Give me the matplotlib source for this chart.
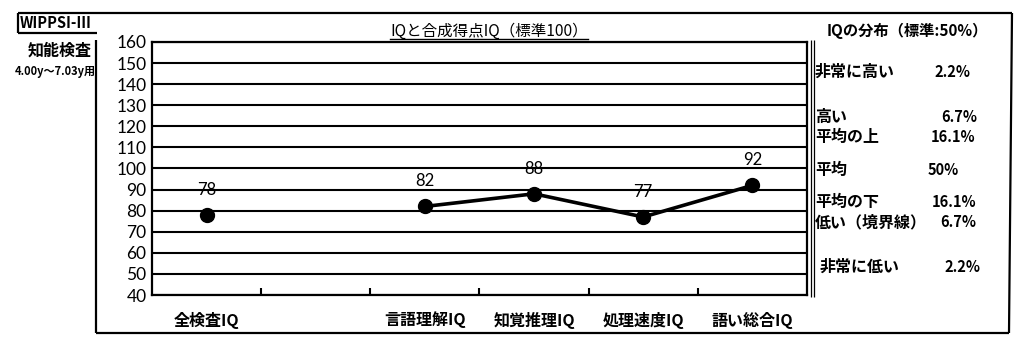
import matplotlib
matplotlib.use('Agg')
import numpy as np
import matplotlib.pyplot as plt
from matplotlib.lines import Line2D

plt.rcParams['font.family'] = ['Noto Sans CJK JP', 'DejaVu Sans']

# scores per index (second slot is left empty on the sheet)
categories = ['全検査IQ', '', '言語理解IQ', '知覚推理IQ', '処理速度IQ', '語い総合IQ']
scores = [78, np.nan, 82, 88, 77, 92]
y_ticks = list(range(40, 161, 10))

# distribution panel text
dist_labels = ['非常に高い', '高い', '平均の上', '平均', '平均の下', '低い（境界線）', '非常に低い']
dist_pcts = ['2.2%', '6.7%', '16.1%', '50%', '16.1%', '6.7%', '2.2%']

W, H = 1024, 341


def px(x, y):
    """pixel position -> figure fraction"""
    return x / W, 1 - y / H


def frame_line(fig, x0, y0, x1, y1, lw=1.6):
    a, b = px(x0, y0)
    c, d = px(x1, y1)
    fig.add_artist(Line2D([a, c], [b, d], color='black', lw=lw,
                          transform=fig.transFigure, solid_capstyle='butt'))


fig = plt.figure(figsize=(W / 100, H / 100), dpi=100)

# main chart
l, t = px(152, 42)
r, b = px(807, 295)
ax = fig.add_axes([l, b, r - l, t - b])

x = np.arange(len(categories))
ax.plot(x, scores, color='black', lw=2.6, marker='o', markersize=10, zorder=3)
for xi, v in zip(x, scores):
    if not np.isnan(v):
        ax.annotate(f'{v:.0f}', (xi, v), xytext=(0, 18), textcoords='offset points',
                    ha='center', va='center', fontsize=12, family='Lato')

ax.set_xlim(-0.5, len(categories) - 0.5)
ax.set_ylim(40, 160)
ax.set_yticks(y_ticks)
ax.set_yticklabels([str(v) for v in y_ticks], family='Lato', fontsize=12.5)
ax.tick_params(axis='y', length=0, pad=4)
ax.yaxis.grid(True, color='black', lw=1.5)
ax.set_axisbelow(True)

ax.set_xticks(x)
ax.set_xticklabels(categories, fontsize=11.5, fontweight='bold')
ax.tick_params(axis='x', which='major', length=0, pad=12)
ax.set_xticks(x[:-1] + 0.5, minor=True)
ax.tick_params(axis='x', which='minor', direction='in', length=5, width=1.5)
for s in ax.spines.values():
    s.set_linewidth(1.6)

title = fig.text(*px(489, 31), 'IQと合成得点IQ（標準100）', ha='center', va='center',
                 fontsize=11.2)

# header at top left
fig.text(*px(20, 23), 'WIPPSI-Ⅲ', ha='left', va='center', fontsize=10.5,
         fontweight='bold', family=['DejaVu Sans Condensed', 'Noto Sans CJK JP'])
fig.text(*px(92, 51), '知能検査', ha='right', va='center', fontsize=11.5,
         fontweight='bold')
fig.text(*px(96, 72), '4.00y～7.03y用', ha='right', va='center', fontsize=8,
         fontweight='bold')

# distribution panel
fig.text(*px(907, 31), 'IQの分布（標準:50%）', ha='center', va='center',
         fontsize=11, fontweight='bold')
row_y = [72, 117, 137, 170, 202, 222, 267]
label_x = [815, 815, 815, 815, 815, 815, 820]
pct_x = [970, 977, 975, 959, 976, 976, 980]
for lab, pct, yy, lx, rx in zip(dist_labels, dist_pcts, row_y, label_x, pct_x):
    fig.text(*px(lx, yy), lab, ha='left', va='center', fontsize=11.5,
             fontweight='bold')
    fig.text(*px(rx, yy), pct, ha='right', va='center', fontsize=10.5,
             fontweight='bold')

# outer frame and separators
frame_line(fig, 18, 13, 1012, 13)
frame_line(fig, 1012, 13, 1009, 333)
frame_line(fig, 96, 333, 1009, 333)
frame_line(fig, 96, 40, 96, 333)
frame_line(fig, 18, 13, 18, 33)
frame_line(fig, 18, 33, 97, 33)
frame_line(fig, 811, 40, 811, 297, lw=0.9)
frame_line(fig, 814, 40, 814, 297, lw=0.9)

# underline the chart title
fig.canvas.draw()
bb = title.get_window_extent()
fig.add_artist(Line2D([bb.x0 / W, bb.x1 / W], [(bb.y0 + 1) / H] * 2, color='black',
                      lw=1.0, transform=fig.transFigure))

fig.savefig('out.png', dpi=100)
